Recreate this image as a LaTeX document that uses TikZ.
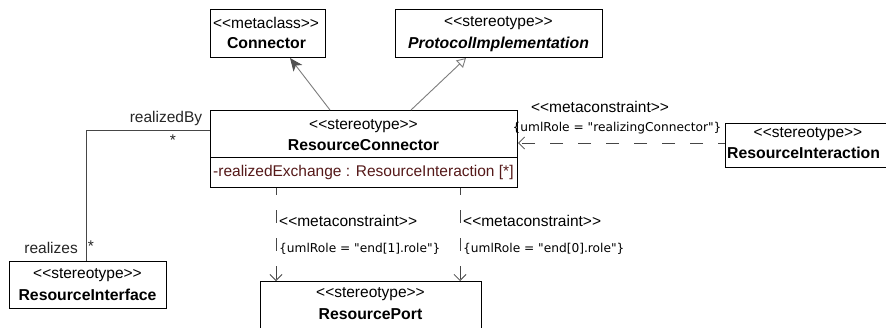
\documentclass[tikz,border=0pt]{standalone}
\usepackage{fontspec}
\setmainfont{Liberation Sans}
\setmonofont{DejaVu Sans}
\usetikzlibrary{arrows.meta,calc}
\definecolor{attrcol}{RGB}{85,25,25}
\definecolor{gencol}{RGB}{125,125,125}
\definecolor{gentip}{RGB}{80,80,80}
\definecolor{linecol}{RGB}{70,70,70}
\newcommand\stereo[1]{<\kern0pt<#1>\kern0pt>}
\begin{document}
\begin{tikzpicture}[x=1pt,y=-1pt,
  umlbox/.style={draw=black, line width=1pt, fill=white, inner sep=0pt, anchor=north west},
  st/.style={font=\fontsize{15.5}{18}\selectfont, inner sep=0pt},
  nm/.style={font=\fontsize{15.8}{19}\selectfont\bfseries, inner sep=0pt},
  nmit/.style={font=\fontsize{15.8}{19}\selectfont\bfseries\itshape, inner sep=0pt},
  lbl/.style={font=\fontsize{15.5}{18}\selectfont, inner sep=0pt, text=black!85},
  attr/.style={font=\fontsize{15.5}{18}\selectfont, inner sep=0pt, text=attrcol},
  role/.style={font=\ttfamily\fontsize{12.2}{15}\selectfont, inner sep=0pt},
  genfilled/.style={draw=gencol, line width=0.9pt, -{Stealth[length=13pt,width=11pt,inset=3.5pt,color=gentip,fill=gentip]}},
  genopen/.style={draw=gencol, line width=0.9pt, -{Triangle[open,length=9pt,width=10pt,fill=white]}},
  assoc/.style={draw=linecol, line width=0.9pt},
  dep/.style={draw=linecol, line width=0.8pt, dash pattern=on 13pt off 15pt, dash phase=6pt, -{Straight Barb[length=6pt,width=12pt]}}
]
\useasboundingbox[fill=white] (0,0) rectangle (886,327);

% boxes
\node[umlbox, minimum width=115, minimum height=48] (conn) at (210,9) {};
\node[st] (connst) at (266,23) {\stereo{metaclass}};
\node[nm] (connnm) at (266.5,43) {Connector};

\node[umlbox, minimum width=207, minimum height=48] (proto) at (395,9) {};
\node[st] (protost) at (498.5,23) {\stereo{stereotype}};
\node[nmit] (protonm) at (498.5,44) {ProtocolImplementation};

\node[umlbox, minimum width=307, minimum height=77] (rc) at (210,110) {};
\node[st] (rcst) at (363.5,126) {\stereo{stereotype}};
\node[nm] (rcnm) at (363.5,145) {ResourceConnector};
\draw[line width=1pt] ($(rc.north west)+(0,47)$) -- ($(rc.north east)+(0,47)$);
\node[attr, anchor=west] (rcattr) at (213,172) {-realizedExchange : ResourceInteraction [*]};

\node[umlbox, minimum width=162, minimum height=44] (rint) at (725,123) {};
\node[st] (rintst) at (808,134) {\stereo{stereotype}};
\node[nm, anchor=west] (rintnm) at (727,153) {ResourceInteraction};

\node[umlbox, minimum width=157, minimum height=47] (ri) at (9,261) {};
\node[st] (rist) at (87.5,275) {\stereo{stereotype}};
\node[nm] (rinm) at (87.5,295) {ResourceInterface};

\node[umlbox, minimum width=221, minimum height=52] (rp) at (260,281) {};
\node[st] (rpst) at (370.5,294) {\stereo{stereotype}};
\node[nm] (rpnm) at (370.5,314) {ResourcePort};

% generalizations
\draw[genfilled] ($(rc.north west)+(120,0)$) -- ($(conn.south west)+(80,0)$);
\draw[genopen] ($(rc.north west)+(201,0)$) -- ($(proto.south west)+(71,0)$);

% association
\draw[assoc] ($(rc.north west)+(0,20)$) -| ($(ri.north west)+(77,0)$);
\node[lbl] (lrb) at (166,118) {realizedBy};
\node[lbl] (lrbm) at (173,140) {*};
\node[lbl, anchor=east] (lrz) at (78,248) {realizes};
\node[lbl] (lrzm) at (91,246) {*};

% dependencies
\draw[dep] ($(rint.north west)+(0,20)$) -- ($(rc.north east)+(0,33)$);
\node[st] (mc1) at (600,107) {\stereo{metaconstraint}};
\node[role] (ur1) at (617,128) {\{umlRole = "realizingConnector"\}};

\draw[dep] ($(rc.south west)+(66,0)$) -- ($(rp.north west)+(16,0)$);
\draw[dep] ($(rc.south west)+(250,0)$) -- ($(rp.north west)+(200,0)$);
\node[st, anchor=west] (mc2) at (279,221) {\stereo{metaconstraint}};
\node[role, anchor=west] (ur2) at (279,249) {\{umlRole = "end[1].role"\}};
\node[st, anchor=west] (mc3) at (463,221) {\stereo{metaconstraint}};
\node[role, anchor=west] (ur3) at (463,249) {\{umlRole = "end[0].role"\}};
\end{tikzpicture}
\end{document}
